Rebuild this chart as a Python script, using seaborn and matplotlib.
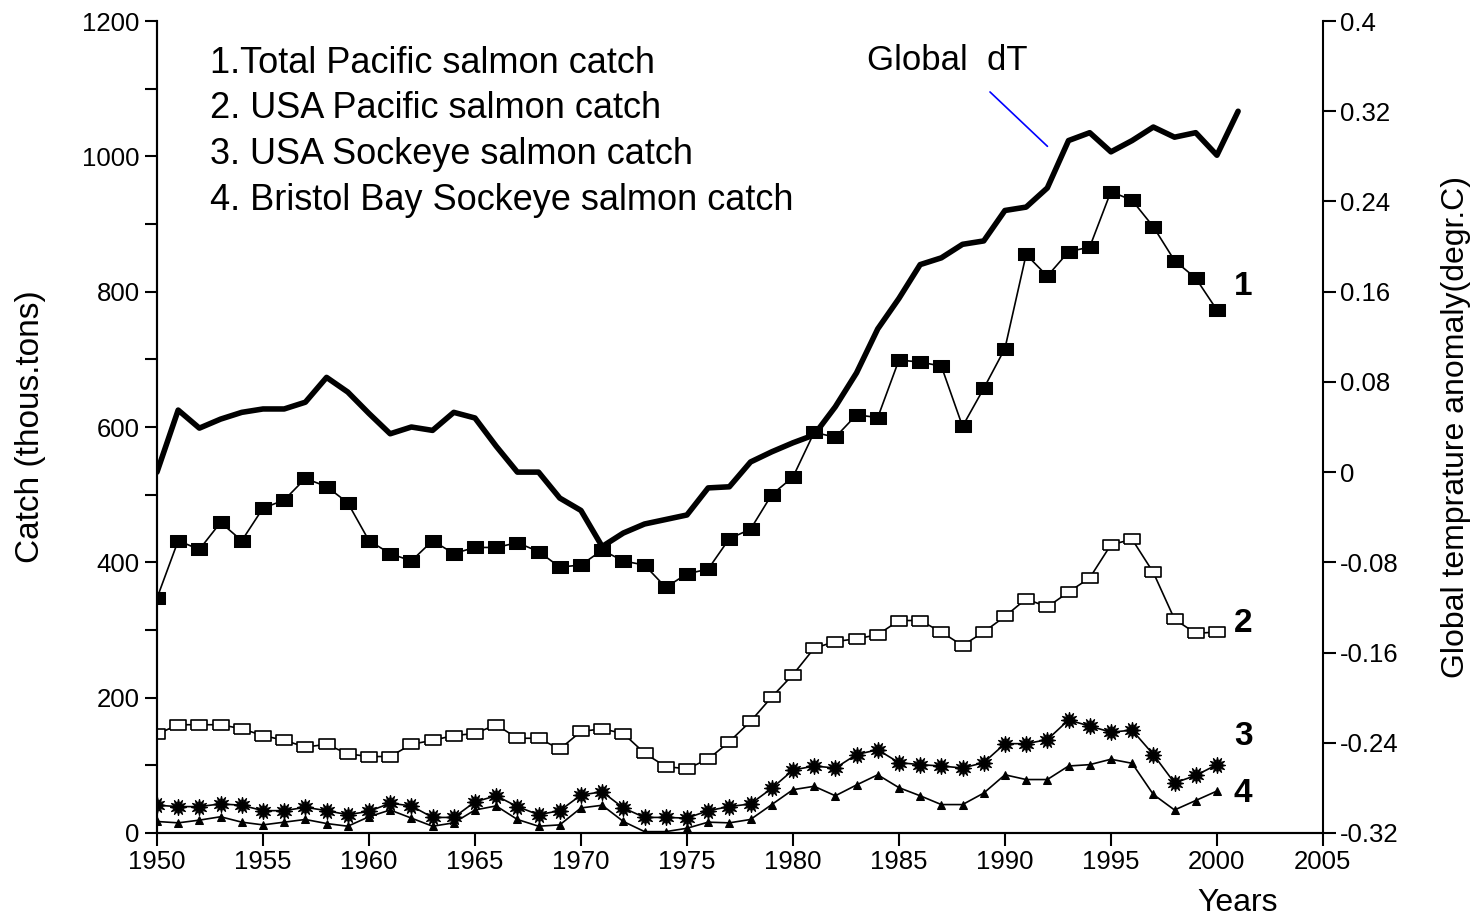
import matplotlib
matplotlib.use("Agg")
import matplotlib.pyplot as plt
import numpy as np
import seaborn as sns

# years of the catch series and of the temperature series
years = np.arange(1950, 2001)
years_dt = np.arange(1950, 2002)

# 1. Total Pacific salmon catch (thous. tons)
total_pacific = [347, 432, 419, 459, 432, 480, 492, 524, 512, 488,
                 432, 413, 402, 432, 413, 422, 422, 429, 416, 393,
                 396, 418, 402, 396, 363, 383, 390, 435, 449, 500,
                 526, 592, 585, 618, 614, 699, 696, 690, 601, 657,
                 716, 855, 823, 859, 866, 948, 935, 896, 846, 820, 773]
# 2. USA Pacific salmon catch
usa_pacific = [146, 160, 160, 160, 154, 144, 137, 127, 131, 117,
               113, 113, 131, 137, 144, 147, 160, 140, 140, 124,
               150, 154, 147, 118, 98, 95, 109, 135, 165, 201,
               234, 273, 283, 287, 293, 314, 314, 297, 277, 297,
               320, 346, 334, 356, 377, 426, 434, 385, 316, 295, 297]
# 3. USA Sockeye salmon catch
usa_sockeye = [41, 39, 39, 43, 41, 33, 33, 38, 33, 27,
               32, 44, 40, 23, 23, 46, 55, 39, 27, 33,
               56, 61, 37, 23, 23, 22, 33, 39, 43, 66,
               93, 99, 96, 116, 123, 104, 101, 99, 96, 104,
               132, 132, 138, 167, 158, 149, 152, 116, 74, 85, 101]
# 4. Bristol Bay Sockeye salmon catch
bristol_bay = [17, 15, 19, 24, 16, 12, 16, 20, 14, 10,
               24, 34, 22, 10, 15, 34, 40, 20, 10, 12,
               37, 41, 17, 2, 2, 7, 16, 15, 20, 42,
               64, 69, 55, 71, 86, 67, 55, 42, 42, 59,
               86, 79, 79, 99, 101, 109, 103, 57, 34, 48, 62]
# Global temperature anomaly (degr. C)
global_dt = [0.0, 0.055, 0.039, 0.047, 0.053, 0.056, 0.056, 0.062, 0.084, 0.071,
             0.052, 0.034, 0.040, 0.037, 0.053, 0.048, 0.023, 0.0, 0.0, -0.023,
             -0.034, -0.066, -0.054, -0.046, -0.042, -0.038, -0.014, -0.013, 0.009, 0.018,
             0.026, 0.033, 0.058, 0.088, 0.127, 0.154, 0.184, 0.190, 0.202, 0.205,
             0.232, 0.235, 0.252, 0.294, 0.301, 0.284, 0.294, 0.306, 0.297, 0.301,
             0.281, 0.320]

legend_lines = ["1.Total Pacific salmon catch",
                "2. USA Pacific salmon catch",
                "3. USA Sockeye salmon catch",
                "4. Bristol Bay Sockeye salmon catch"]
series_numbers = ["1", "2", "3", "4"]
number_pos = [(2000.8, 807), (2000.8, 310), (2000.8, 142), (2000.8, 59)]

left_ticks = np.arange(0, 1201, 200)
right_ticks = [-0.32, -0.24, -0.16, -0.08, 0, 0.08, 0.16, 0.24, 0.32, 0.4]
right_labels = ["-0.32", "-0.24", "-0.16", "-0.08", "0", "0.08", "0.16", "0.24", "0.32", "0.4"]
x_ticks = np.arange(1950, 2006, 5)

sns.set_style("ticks")
plt.rcParams['font.family'] = ['Liberation Sans', 'DejaVu Sans']
plt.rcParams['text.color'] = 'black'
plt.rcParams['axes.labelcolor'] = 'black'

fig = plt.figure(figsize=(14.74, 9.18), dpi=100)
ax = fig.add_axes([0.1065, 0.0926, 0.791, 0.8845])
ax2 = ax.twinx()

# wide rectangle marker
rect = [(-1.4, -1), (1.4, -1), (1.4, 1), (-1.4, 1), (-1.4, -1)]

sns.lineplot(x=years, y=total_pacific, ax=ax, color='black', lw=1.2,
             marker=rect, markersize=12, markerfacecolor='black',
             markeredgecolor='black')
sns.lineplot(x=years, y=usa_pacific, ax=ax, color='black', lw=1.2,
             marker=rect, markersize=11, markerfacecolor='white',
             markeredgecolor='black', markeredgewidth=1.2)
sns.lineplot(x=years, y=usa_sockeye, ax=ax, color='black', lw=1.2,
             marker=(12, 1, 0), markersize=12, markerfacecolor='black',
             markeredgecolor='black')
sns.lineplot(x=years, y=bristol_bay, ax=ax, color='black', lw=1.2,
             marker='^', markersize=6, markerfacecolor='black',
             markeredgecolor='black')

sns.lineplot(x=years_dt, y=global_dt, ax=ax2, color='black', lw=4)

ax.set_xlim(1950, 2005)
ax.set_ylim(0, 1200)
ax2.set_ylim(-0.32, 0.4)

ax.set_xticks(x_ticks)
ax.set_yticks(left_ticks)
ax.set_yticks(np.arange(100, 1200, 200), minor=True)
ax2.set_yticks(right_ticks)
ax2.set_yticklabels(right_labels)

ax.tick_params(axis='both', which='both', direction='out', length=9, width=1.5,
               labelsize=18.5, colors='black')
ax2.tick_params(axis='y', direction='out', length=9, width=1.5, labelsize=18.5,
                colors='black')

for a in (ax, ax2):
    a.spines['top'].set_visible(False)
    for s in ('left', 'right', 'bottom'):
        a.spines[s].set_linewidth(1.5)
        a.spines[s].set_color('black')
ax.spines['right'].set_visible(False)

ax.set_xlabel('Years', fontsize=23)
ax.xaxis.set_label_coords(0.927, -0.068)
ax.set_ylabel('Catch (thous.tons)', fontsize=24, labelpad=26)
ax2.set_ylabel('Global temprature anomaly(degr.C)', fontsize=23, labelpad=30)

# legend text block
for i, line in enumerate(legend_lines):
    ax.text(0.0455, 0.948 - i * 0.0562, line, transform=ax.transAxes,
            fontsize=26, va='center', ha='left')

# series numbers at line ends
for lab, (px, py) in zip(series_numbers, number_pos):
    ax.text(px, py, lab, fontsize=24, fontweight='bold', va='center', ha='left')

# Global dT label with pointer
ax.text(1987.3, 1142, 'Global  dT', fontsize=25, ha='center', va='center')
ax.annotate('', xy=(1992.1, 1012), xytext=(1989.2, 1098),
            arrowprops=dict(arrowstyle='-', color='blue', lw=1.2))

plt.savefig('out.png', dpi=100)
